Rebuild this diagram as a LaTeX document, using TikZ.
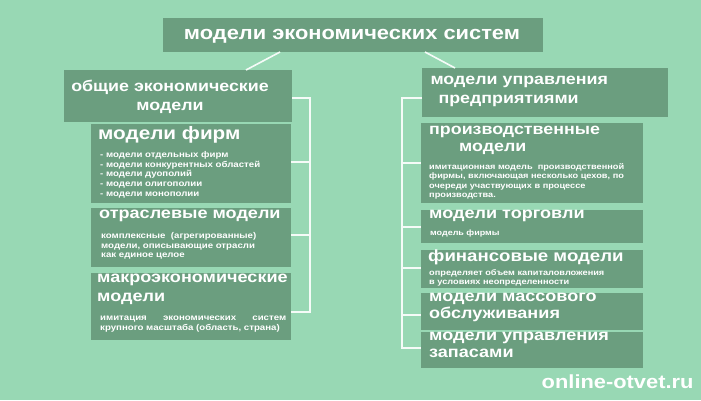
\documentclass[tikz,border=0pt]{standalone}
\usepackage{fontspec}
\setmainfont[FakeStretch=1.15]{Liberation Sans}
\definecolor{bg}{HTML}{98D8B4}
\definecolor{bx}{HTML}{6B9E7F}
\begin{document}
\begin{tikzpicture}[x=1pt,y=-1pt,
  box/.style={fill=bx,draw=none},
  big/.style={text=white,font=\bfseries\fontsize{15.7}{17}\selectfont,anchor=north west,inner sep=0,align=left},
  small/.style={text=white,font=\bfseries\fontsize{8.4}{9.8}\selectfont,anchor=north west,inner sep=0,align=left},
  ln/.style={draw=white!90!bg,line width=1.6pt}]
\fill[bg] (0,0) rectangle (701,400);
\useasboundingbox (0,0) rectangle (701,400);
% title
\fill[box] (163,18) rectangle (543,52);
\node[text=white,font=\bfseries\fontsize{19}{19}\selectfont] (t) at (352,36) {модели экономических систем};
% headers
\fill[box] (64,70) rectangle (292,122);
\node[text=white,font=\bfseries\fontsize{15.5}{19}\selectfont,align=center] (lh) at (170,97) {общие экономические\\модели};
\fill[box] (422,68) rectangle (668,117);
\node[text=white,font=\bfseries\fontsize{15.5}{19}\selectfont,align=left,anchor=west] (rh) at (427,91) {модели управления\\\hspace*{8pt}предприятиями};
\coordinate (tl) at (280,52); \coordinate (tr) at (425,52);
\coordinate (lht) at (246,70); \coordinate (rht) at (455,68);
\draw[ln] (tl) -- (lht); \draw[ln] (tr) -- (rht);
% left boxes
\fill[box] (91,124) rectangle (291,203);
\node[big,font=\bfseries\fontsize{18}{18}\selectfont] (f1) at (98,126) {модели фирм};
\node[small] (f1s) at (100,151) {- модели отдельных фирм\\- модели конкурентных областей\\- модели дуополий\\- модели олигополии\\- модели монополии};
\fill[box] (91,208) rectangle (291,267);
\node[big] (f2) at (99,210) {отраслевые модели};
\node[small] (f2s) at (101,232) {комплексные \ (агрегированные)\\модели, описывающие отрасли\\как единое целое};
\fill[box] (91,273) rectangle (291,340);
\node[big,font=\bfseries\fontsize{15.7}{19}\selectfont] (f3) at (97,274) {макроэкономические\\модели};
\node[small,align=justify,text width=186pt] (f3s) at (100,316) {имитация\hfill экономических\hfill систем\\крупного масштаба (область, страна)};
\coordinate (la) at (310,98); \coordinate (lb) at (310,312);
\draw[ln] (292,98) -- (la) -- (lb) -- (291,312);
\draw[ln] (291,162) -- (310,162);
\draw[ln] (291,235) -- (310,235);
% right boxes
\fill[box] (421,123) rectangle (643,203);
\node[big,font=\bfseries\fontsize{15.5}{17}\selectfont] (r1) at (429,126) {производственные\\\hspace*{30pt}модели};
\node[small,font=\bfseries\fontsize{8}{9.5}\selectfont] (r1s) at (429,163) {имитационная модель \ производственной\\фирмы, включающая несколько цехов, по\\очереди участвующих в процессе\\производства.};
\fill[box] (421,210) rectangle (643,243);
\node[big] (r2) at (429,210) {модели торговли};
\node[small,font=\bfseries\fontsize{7.8}{9}\selectfont] (r2s) at (430,230) {модель фирмы};
\fill[box] (421,250) rectangle (643,288);
\node[big,font=\bfseries\fontsize{16.2}{17}\selectfont] (r3) at (428,250) {финансовые модели};
\node[small,font=\bfseries\fontsize{8}{9.5}\selectfont] (r3s) at (429,269) {определяет объем капиталовложения\\в условиях неопределенности};
\fill[box] (421,293) rectangle (643,330);
\node[big] (r4) at (429,293) {модели массового\\обслуживания};
\fill[box] (421,332) rectangle (643,368);
\node[big] (r5) at (429,332) {модели управления\\запасами};
\coordinate (ra) at (402,98); \coordinate (rb) at (402,348);
\draw[ln] (422,98) -- (ra) -- (rb) -- (421,348);
\foreach \y in {163,227,268,315} \draw[ln] (402,\y) -- (421,\y);
\node[text=white,font=\bfseries\fontsize{19}{19}\selectfont,anchor=east] (wm) at (697,382) {online-otvet.ru};
\end{tikzpicture}
\end{document}
